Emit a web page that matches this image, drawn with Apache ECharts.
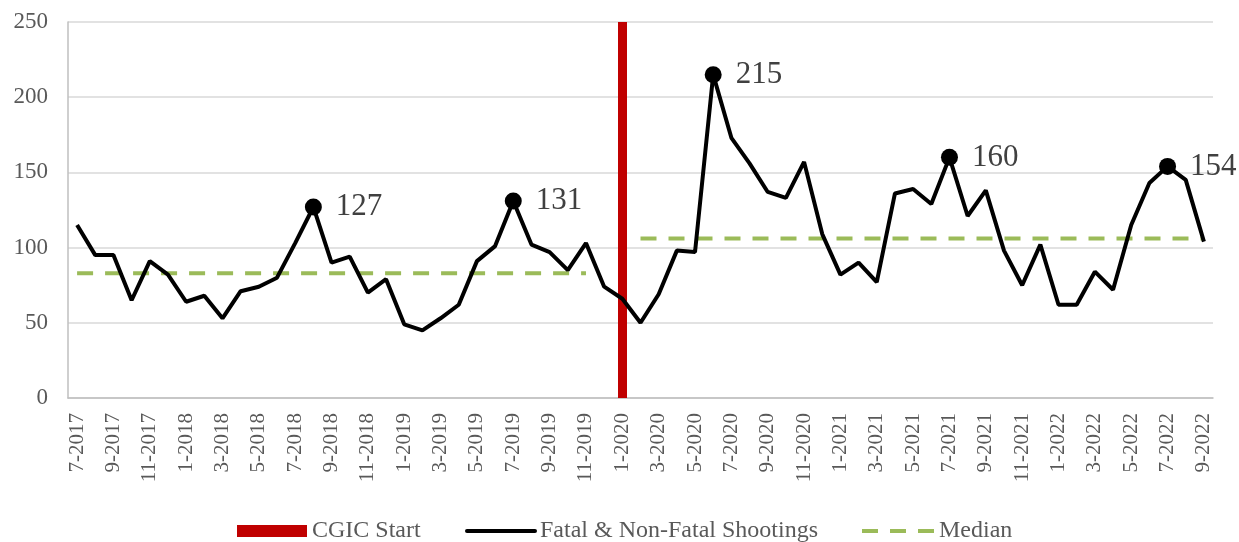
<!DOCTYPE html>
<html>
<head>
<meta charset="utf-8">
<script src="https://cdn.jsdelivr.net/npm/echarts@6/dist/echarts.min.js"></script>
<style>
    html, body { margin: 0; padding: 0; background: #fff; }
    #chart { width: 1239px; height: 542px; }
</style>
</head>
<body>
<div id="chart"></div>
<script>
// months, 7-2017 .. 9-2022
const months = [
    '7-2017', '8-2017', '9-2017', '10-2017', '11-2017', '12-2017',
    '1-2018', '2-2018', '3-2018', '4-2018', '5-2018', '6-2018', '7-2018', '8-2018', '9-2018', '10-2018', '11-2018', '12-2018',
    '1-2019', '2-2019', '3-2019', '4-2019', '5-2019', '6-2019', '7-2019', '8-2019', '9-2019', '10-2019', '11-2019', '12-2019',
    '1-2020', '2-2020', '3-2020', '4-2020', '5-2020', '6-2020', '7-2020', '8-2020', '9-2020', '10-2020', '11-2020', '12-2020',
    '1-2021', '2-2021', '3-2021', '4-2021', '5-2021', '6-2021', '7-2021', '8-2021', '9-2021', '10-2021', '11-2021', '12-2021',
    '1-2022', '2-2022', '3-2022', '4-2022', '5-2022', '6-2022', '7-2022', '8-2022', '9-2022'
];

const shootings = [
    115, 95, 95, 65, 91, 82,
    64, 68, 53, 71, 74, 80, 103, 127, 90, 94, 70, 79,
    49, 45, 53, 62, 91, 101, 131, 102, 97, 85, 103, 74,
    66, 50, 69, 98, 97, 215, 173, 156, 137, 133, 157, 109,
    82, 90, 77, 136, 139, 129, 160, 121, 138, 98, 75, 102,
    62, 62, 84, 72, 115, 143, 154, 145, 104
];

// labelled peaks
const peakMonths = ['8-2018', '7-2019', '6-2020', '7-2021', '7-2022'];

const cgicMonth = '1-2020';

// median before / after CGIC start
const medianPre = { from: '7-2017', to: '11-2019', value: 83 };
const medianPost = { from: '2-2020', to: '9-2022', value: 106 };

const FONT = 'Liberation Serif';
const GREY = '#595959';

const chart = echarts.init(document.getElementById('chart'));

const medianLine = (m) => ({
    name: 'Median',
    type: 'line',
    data: [[m.from, m.value], [m.to, m.value]],
    symbol: 'none',
    silent: true,
    z: 3,
    lineStyle: { color: '#9BBB59', width: 4, type: [16, 12] },
    itemStyle: { color: '#9BBB59' }
});

const legendBase = {
    top: 519,
    padding: 0,
    itemHeight: 12,
    selectedMode: false,
    textStyle: { fontFamily: FONT, fontSize: 24, color: GREY }
};

const option = {
    backgroundColor: '#fff',
    animation: false,
    grid: { left: 68, right: 26, top: 22, bottom: 144 },
    legend: [
        { ...legendBase, left: 237, itemWidth: 70, data: [{ name: 'CGIC Start', icon: 'rect' }] },
        {
            ...legendBase, left: 465, itemWidth: 68, data: ['Fatal & Non-Fatal Shootings'],
            itemStyle: { opacity: 0 }, lineStyle: { width: 4, cap: 'round' }
        },
        {
            ...legendBase, left: 860, itemWidth: 72, data: ['Median'],
            itemStyle: { opacity: 0 }, lineStyle: { width: 4 }
        }
    ],
    xAxis: {
        type: 'category',
        data: months,
        boundaryGap: true,
        axisLine: { lineStyle: { color: '#BFBFBF', width: 1.5 } },
        axisTick: { show: false },
        axisLabel: {
            interval: 1,
            rotate: 90,
            margin: 15,
            fontFamily: FONT,
            fontSize: 21,
            color: GREY
        },
        splitLine: { show: false }
    },
    yAxis: {
        type: 'value',
        min: 0,
        max: 250,
        interval: 50,
        axisLine: { show: true, lineStyle: { color: '#BFBFBF', width: 1.5 } },
        axisTick: { show: false },
        axisLabel: { margin: 20, fontFamily: FONT, fontSize: 23, color: GREY },
        splitLine: { lineStyle: { color: '#D9D9D9', width: 1.5 } }
    },
    series: [
        {
            name: 'CGIC Start',
            type: 'line',
            data: [],
            symbol: 'none',
            itemStyle: { color: '#C00000' },
            lineStyle: { color: '#C00000' },
            z: 4,
            markLine: {
                silent: true,
                symbol: ['none', 'none'],
                label: { show: false },
                lineStyle: { color: '#C00000', width: 9, type: 'solid' },
                data: [{ xAxis: cgicMonth }]
            }
        },
        {
            name: 'Fatal & Non-Fatal Shootings',
            type: 'line',
            data: shootings,
            symbol: 'none',
            z: 5,
            itemStyle: { color: '#000' },
            lineStyle: { color: '#000', width: 4 }
        },
        medianLine(medianPre),
        medianLine(medianPost),
        {
            name: 'peaks',
            type: 'scatter',
            data: peakMonths.map(m => [m, shootings[months.indexOf(m)]]),
            symbol: 'circle',
            symbolSize: 17,
            z: 6,
            itemStyle: { color: '#000', opacity: 1 },
            label: {
                show: true,
                position: 'right',
                distance: 14,
                formatter: p => p.value[1],
                fontFamily: FONT,
                fontSize: 31,
                color: '#404040'
            }
        }
    ]
};

chart.setOption(option);
</script>
</body>
</html>
